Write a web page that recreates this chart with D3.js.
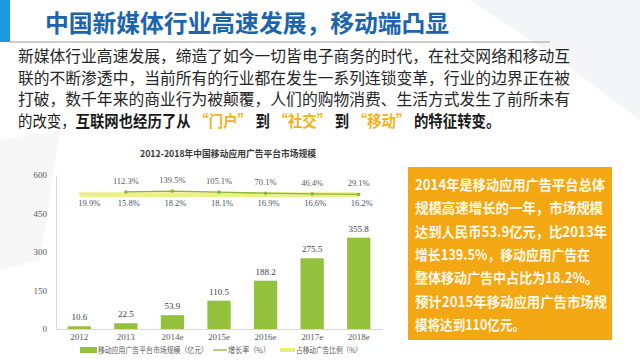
<!doctype html>
<html>
  <head>
    <meta charset="utf-8">
    <title>移动应用广告平台市场规模</title>
    <style>
      * { margin: 0; padding: 0; }
      body { background: #fff; width: 640px; height: 360px; overflow: hidden; }
      text { font-family: "Noto Sans CJK SC", sans-serif; }
      .num { font-family: "Liberation Serif", serif; }
    </style>
    <script src="https://cdnjs.cloudflare.com/ajax/libs/d3/7.8.5/d3.min.js"></script>
  </head>
  <body>
    <script>
      // chart data
      var years = ["2012", "2013", "2014e", "2015e", "2016e", "2017e", "2018e"];
      var marketSize = [10.6, 22.5, 53.9, 110.5, 188.2, 275.5, 355.8];
      var growthRate = [null, 112.3, 139.5, 105.1, 70.1, 46.4, 29.1];
      var shareOfMobile = [19.9, 15.8, 18.2, 18.1, 16.9, 16.6, 16.2];
      var yTicks = [0, 150, 300, 450, 600];
      var legendLabels = ["移动应用广告平台市场规模（亿元）", "增长率（%）", "占移动广告比例（%）"];

      var pageTitle = "中国新媒体行业高速发展，移动端凸显";
      var chartTitle = "2012-2018年中国移动应用广告平台市场规模";
      var bodyLines = [
        "新媒体行业高速发展，缔造了如今一切皆电子商务的时代，在社交网络和移动互",
        "联的不断渗透中，当前所有的行业都在发生一系列连锁变革，行业的边界正在被",
        "打破，数千年来的商业行为被颠覆，人们的购物消费、生活方式发生了前所未有"
      ];
      var lastLine = [
        { t: "的改变，", bold: false, hl: false },
        { t: "互联网也经历了从", bold: true, hl: false },
        { t: "“门户”", bold: true, hl: true },
        { t: "到", bold: true, hl: false },
        { t: "“社交”", bold: true, hl: true },
        { t: "到", bold: true, hl: false },
        { t: "“移动”", bold: true, hl: true },
        { t: "的特征转变。", bold: true, hl: false }
      ];
      var boxLines = [
        "2014年是移动应用广告平台总体",
        "规模高速增长的一年，市场规模",
        "达到人民币53.9亿元，比2013年",
        "增长139.5%，移动应用广告在",
        "整体移动广告中占比为18.2%。",
        "预计2015年移动应用广告市场规",
        "模将达到110亿元。"
      ];
      var boxLineWidths = [190, 188, 192, 175, 183, 192, 110];

      var width = 640, height = 360;
      var barColor = "#94c13c";
      var growthColor = "#8db33a";
      var shareColor = "#e9f07a";

      var svg = d3.select("body").append("svg")
                  .attr("width", width)
                  .attr("height", height);

      // faint background shapes
      svg.append("polygon").attr("points", "470,0 640,0 640,120 560,60").attr("fill", "#f4f5f7");
      svg.append("polygon").attr("points", "0,140 60,130 40,260 0,270").attr("fill", "#f7f7f8");

      // title bar
      svg.append("rect").attr("x", 0).attr("y", 0).attr("width", 10).attr("height", 42).attr("fill", "#1a9be0");
      svg.append("line").attr("x1", 10).attr("x2", 550).attr("y1", 42).attr("y2", 42)
         .attr("stroke", "#9a9a9a").attr("stroke-width", 1);
      svg.append("text").attr("x", 45).attr("y", 32)
         .attr("font-size", 24).attr("font-weight", "bold").attr("fill", "#1c64ad")
         .attr("textLength", 404).attr("lengthAdjust", "spacingAndGlyphs")
         .text(pageTitle);

      // body paragraph
      svg.selectAll("text.body").data(bodyLines).enter().append("text")
         .attr("class", "body")
         .attr("x", 18)
         .attr("y", function (d, i) { return 62 + i * 21.7; })
         .attr("font-size", 16).attr("fill", "#262626")
         .attr("textLength", 552).attr("lengthAdjust", "spacingAndGlyphs")
         .text(function (d) { return d; });

      // last line: pieces laid end to end in a group, then squeezed horizontally
      var gap = 4;
      var lastG = svg.append("g");
      var px = 0;
      lastLine.forEach(function (seg, i) {
        var t = lastG.append("text").attr("x", px).attr("y", 0)
           .attr("font-size", 16)
           .attr("font-weight", seg.bold ? "bold" : "normal")
           .attr("fill", seg.hl ? "#f3b21c" : "#1a1a1a")
           .text(seg.t);
        px += t.node().getComputedTextLength() + (i > 0 ? gap : 0);
      });
      var k = Math.min(1, 486 / px);
      lastG.attr("transform", "translate(18," + (62 + 3 * 21.7) + ") scale(" + k + ",1)");

      // chart
      var x = d3.scaleBand().domain(years).range([56, 382]).paddingInner(0.5).paddingOuter(0.25);
      var y = d3.scaleLinear().domain([0, 600]).range([329, 175]);
      var y2 = d3.scaleLinear().domain([0, 1000]).range([195.3, 165.3]);

      svg.append("text").attr("x", 228).attr("y", 157)
         .attr("text-anchor", "middle").attr("font-size", 9.5).attr("font-weight", "bold").attr("fill", "#3a3a3a")
         .attr("textLength", 176).attr("lengthAdjust", "spacingAndGlyphs")
         .text(chartTitle);

      var yAxis = svg.append("g").attr("transform", "translate(56,0)")
         .call(d3.axisLeft(y).tickValues(yTicks).tickSize(0).tickPadding(9));
      yAxis.select(".domain").attr("stroke", "#d9d9d9");
      yAxis.selectAll("text").attr("class", "num").attr("font-size", 9).attr("fill", "#595959");

      var xAxis = svg.append("g").attr("transform", "translate(0,329)")
         .call(d3.axisBottom(x).tickSize(0).tickPadding(5));
      xAxis.select(".domain").attr("stroke", "#d9d9d9");
      xAxis.selectAll("text").attr("class", "num").attr("font-size", 9).attr("fill", "#595959");

      svg.selectAll("rect.bar").data(marketSize).enter().append("rect")
         .attr("class", "bar")
         .attr("x", function (d, i) { return x(years[i]); })
         .attr("width", x.bandwidth())
         .attr("y", function (d) { return y(d); })
         .attr("height", function (d) { return y(0) - y(d); })
         .attr("fill", barColor);

      svg.selectAll("text.barval").data(marketSize).enter().append("text")
         .attr("class", "num")
         .attr("x", function (d, i) { return x(years[i]) + x.bandwidth() / 2; })
         .attr("y", function (d) { return y(d) - 6; })
         .attr("text-anchor", "middle").attr("font-size", 9).attr("fill", "#404040")
         .text(function (d) { return d; });

      var cx = function (i) { return x(years[i]) + x.bandwidth() / 2; };

      // share of mobile ads (thick yellow)
      var shareLine = d3.line().x(function (d, i) { return cx(i); }).y(function (d) { return y2(d); });
      svg.append("path").datum(shareOfMobile).attr("d", shareLine)
         .attr("fill", "none").attr("stroke", shareColor).attr("stroke-width", 5).attr("opacity", 0.9);

      // growth rate (thin green)
      var growthPts = growthRate.map(function (d, i) { return { v: d, i: i }; }).filter(function (d) { return d.v !== null; });
      var growthLine = d3.line().x(function (d) { return cx(d.i); }).y(function (d) { return y2(d.v); });
      svg.append("path").datum(growthPts).attr("d", growthLine)
         .attr("fill", "none").attr("stroke", growthColor).attr("stroke-width", 1.3);
      svg.selectAll("circle.gp").data(growthPts).enter().append("circle")
         .attr("cx", function (d) { return cx(d.i); })
         .attr("cy", function (d) { return y2(d.v); })
         .attr("r", 1.8).attr("fill", growthColor);

      svg.selectAll("text.gl").data(growthPts).enter().append("text")
         .attr("class", "num")
         .attr("x", function (d) { return cx(d.i); })
         .attr("y", function (d) { return y2(d.v) - 8; })
         .attr("text-anchor", "middle").attr("font-size", 8.5).attr("fill", "#595959")
         .text(function (d) { return d.v.toFixed(1) + "%"; });

      svg.selectAll("text.sl").data(shareOfMobile).enter().append("text")
         .attr("class", "num")
         .attr("x", function (d, i) { return cx(i) + (i === 0 ? 10 : 3); })
         .attr("y", function (d) { return y2(d) + 11; })
         .attr("text-anchor", "middle").attr("font-size", 8.5).attr("fill", "#44546a")
         .text(function (d) { return d.toFixed(1) + "%"; });

      // legend
      var lg = svg.append("g").attr("transform", "translate(0,350)");
      lg.append("rect").attr("x", 80).attr("y", -3).attr("width", 17).attr("height", 6).attr("fill", barColor);
      lg.append("text").attr("x", 98).attr("y", 3).attr("font-size", 7.5).attr("fill", "#595959")
        .attr("textLength", 110).attr("lengthAdjust", "spacingAndGlyphs").text(legendLabels[0]);
      lg.append("line").attr("x1", 213).attr("x2", 227).attr("y1", 0).attr("y2", 0)
        .attr("stroke", growthColor).attr("stroke-width", 1.3);
      lg.append("text").attr("x", 228).attr("y", 3).attr("font-size", 7.5).attr("fill", "#595959")
        .attr("textLength", 42).attr("lengthAdjust", "spacingAndGlyphs").text(legendLabels[1]);
      lg.append("line").attr("x1", 280).attr("x2", 295).attr("y1", 0).attr("y2", 0)
        .attr("stroke", shareColor).attr("stroke-width", 4);
      lg.append("text").attr("x", 296).attr("y", 3).attr("font-size", 7.5).attr("fill", "#595959")
        .attr("textLength", 66).attr("lengthAdjust", "spacingAndGlyphs").text(legendLabels[2]);

      // orange note box
      svg.append("rect").attr("x", 408).attr("y", 167).attr("width", 204).attr("height", 173).attr("fill", "#f3a712");
      svg.selectAll("text.box").data(boxLines).enter().append("text")
         .attr("x", 415)
         .attr("y", function (d, i) { return 190 + i * 23.3; })
         .attr("font-size", 14).attr("font-weight", "bold").attr("fill", "#fffaea")
         .attr("textLength", function (d, i) { return boxLineWidths[i]; })
         .attr("lengthAdjust", "spacingAndGlyphs")
         .text(function (d) { return d; });
    </script>
  </body>
</html>
